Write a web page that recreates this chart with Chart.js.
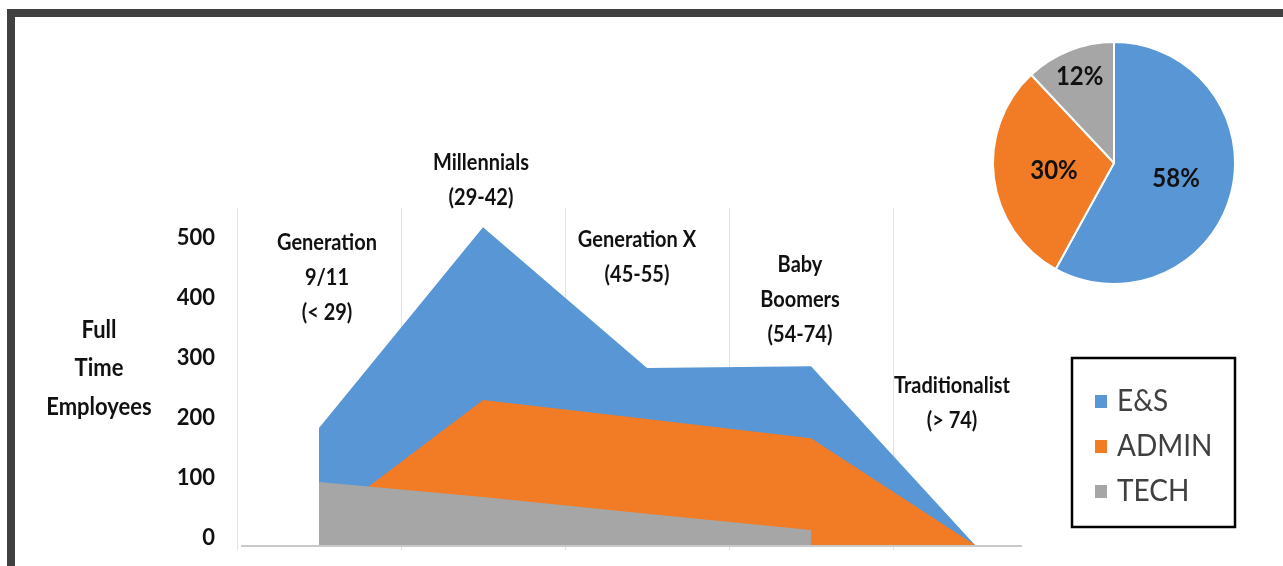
<!DOCTYPE html>
<html>
<head>
<meta charset="utf-8">
<script src="https://cdn.jsdelivr.net/npm/chart.js@4.4.1/dist/chart.umd.min.js"></script>
<style>
  html, body { margin: 0; padding: 0; background: #ffffff; }
  #wrap { position: relative; width: 1283px; height: 566px; overflow: hidden; background: #fff; }
  #frame { position: absolute; left: 7px; top: 9px; width: 1400px; height: 700px;
           border-left: 8px solid #404040; border-top: 8px solid #404040; box-sizing: border-box; }
  #main { position: absolute; left: 0; top: 0; }
  #pie { position: absolute; left: 989px; top: 38px; }
</style>
</head>
<body>
<div id="wrap">
  <div id="frame"></div>
  <canvas id="main" width="1283" height="566"></canvas>
  <canvas id="pie" width="250" height="250"></canvas>
</div>
<script>
// ---------------- DATA ----------------
const categories = ['Generation 9/11', 'Millennials', 'Generation X', 'Baby Boomers', 'Traditionalist'];
const categoryLines = [
  ['Generation', '9/11', '(< 29)'],
  ['Millennials', '(29-42)'],
  ['Generation X', '(45-55)'],
  ['Baby', 'Boomers', '(54-74)'],
  ['Traditionalist', '(> 74)']
];
const seriesNames = ['E&S', 'ADMIN', 'TECH'];
const esValues    = [195, 530, 295, 298, 0];
const adminValues = [35, 242, 210, 178, 0];
const techValues  = [105, 80, 52, 25, null];
const yTicks = [0, 100, 200, 300, 400, 500];
const yTitleLines = ['Full', 'Time', 'Employees'];
const pieLabels = ['E&S', 'ADMIN', 'TECH'];
const pieValues = [58, 30, 12];

// ---------------- STYLE ----------------
const COLORS = ['#5896d6', '#f27b25', '#a6a6a6'];
const FONT = 'Lato, "Open Sans", sans-serif';

function stretchedText(ctx, text, x, y, font, color, align, sy) {
  ctx.save();
  ctx.font = font;
  ctx.fillStyle = color;
  ctx.textAlign = align || 'center';
  ctx.textBaseline = 'middle';
  ctx.translate(x, y);
  ctx.scale(1, sy || 1);
  ctx.fillText(text, 0, 0);
  ctx.restore();
}

const decorPlugin = {
  id: 'decor',
  afterDraw(chart, args, opts) {
    const ctx = chart.ctx;
    const xs = chart.scales.x;
    const ca = chart.chartArea;
    // baseline
    ctx.save();
    ctx.strokeStyle = '#c9c9c9';
    ctx.lineWidth = 2;
    ctx.beginPath();
    ctx.moveTo(ca.left + 4, ca.bottom + 1);
    ctx.lineTo(opts.baselineEnd, ca.bottom + 1);
    ctx.stroke();
    ctx.restore();
    // category labels
    categoryLines.forEach((lines, i) => {
      const cx = xs.getPixelForValue(i) + opts.labelDx[i];
      lines.forEach((t, k) => {
        stretchedText(ctx, t, cx, opts.labelTop[i] + k * opts.lineGap, 'bold 20px ' + FONT, '#111', 'center', 1.12);
      });
    });
    // y title
    yTitleLines.forEach((t, k) => {
      stretchedText(ctx, t, opts.titleX, opts.titleTop + k * 38.5, 'bold 22px ' + FONT, '#111', 'center', 1.12);
    });
    // legend box
    const L = opts.legend;
    ctx.save();
    ctx.strokeStyle = '#000';
    ctx.lineWidth = 2.5;
    ctx.strokeRect(L.x, L.y, L.w, L.h);
    ctx.restore();
    seriesNames.forEach((n, k) => {
      const cy = L.firstY + k * L.gap;
      ctx.fillStyle = COLORS[k];
      ctx.fillRect(L.x + 23, cy - 6, 12, 13);
      stretchedText(ctx, n, L.x + 45, cy, '28px ' + FONT, '#404040', 'left', 1.1);
    });
  }
};

const mainChart = new Chart(document.getElementById('main'), {
  type: 'line',
  data: {
    labels: categories,
    datasets: [
      { label: seriesNames[0], data: esValues,    backgroundColor: COLORS[0], borderColor: COLORS[0], order: 3 },
      { label: seriesNames[1], data: adminValues, backgroundColor: COLORS[1], borderColor: COLORS[1], order: 2 },
      { label: seriesNames[2], data: techValues,  backgroundColor: COLORS[2], borderColor: COLORS[2], order: 1 }
    ].map(d => Object.assign(d, { fill: 'origin', borderWidth: 0, pointRadius: 0, tension: 0, spanGaps: false }))
  },
  options: {
    responsive: false,
    animation: false,
    events: [],
    layout: { padding: { top: 208, right: 226, bottom: 0, left: 0 } },
    plugins: {
      legend: { display: false },
      tooltip: { enabled: false },
      decor: {
        baselineEnd: 1022,
        labelDx: [8, -2, -10, -11, -23],
        labelTop: [243, 163, 240, 265, 386],
        lineGap: 35,
        titleX: 99,
        titleTop: 330,
        legend: { x: 1072, y: 358, w: 163, h: 169, firstY: 401, gap: 45 }
      }
    },
    scales: {
      x: {
        offset: true,
        grid: {
          offset: true,
          color: (c) => (c.index === undefined || c.index >= 5) ? 'rgba(0,0,0,0)' : '#e2e2e2',
          lineWidth: 1,
          drawTicks: true,
          tickLength: 5
        },
        border: { display: false },
        ticks: { display: false },
        afterFit: (s) => { s.height = 21; s.paddingLeft = 0; s.paddingRight = 0; }
      },
      y: {
        min: 0,
        max: 562,
        grid: { display: false, drawTicks: false },
        border: { display: false },
        afterBuildTicks: (axis) => { axis.ticks = yTicks.map(v => ({ value: v })); },
        ticks: {
          padding: 22,
          labelOffset: -7,
          color: '#111',
          font: { family: FONT, size: 22, weight: 'bold' }
        },
        afterFit: (s) => { s.width = 237; s.paddingTop = 0; s.paddingBottom = 0; }
      }
    }
  },
  plugins: [decorPlugin]
});

const pieLabelPlugin = {
  id: 'pieLabels',
  afterDatasetsDraw(chart, args, opts) {
    const ctx = chart.ctx;
    const meta = chart.getDatasetMeta(0);
    meta.data.forEach((arc, i) => {
      const mid = (arc.startAngle + arc.endAngle) / 2;
      const r = arc.outerRadius * opts.radiusFrac[i];
      const x = arc.x + Math.cos(mid) * r;
      const y = arc.y + Math.sin(mid) * r;
      stretchedText(ctx, pieValues[i] + '%', x, y, 'bold 24px ' + FONT, '#111', 'center', 1.1);
    });
  }
};

new Chart(document.getElementById('pie'), {
  type: 'pie',
  data: {
    labels: pieLabels,
    datasets: [{ data: pieValues, backgroundColor: COLORS, borderColor: '#ffffff', borderWidth: 2 }]
  },
  options: {
    responsive: false,
    animation: false,
    events: [],
    radius: 121,
    layout: { padding: 0 },
    plugins: {
      legend: { display: false },
      tooltip: { enabled: false },
      pieLabels: { radiusFrac: [0.53, 0.5, 0.77] }
    }
  },
  plugins: [pieLabelPlugin]
});
</script>
</body>
</html>
